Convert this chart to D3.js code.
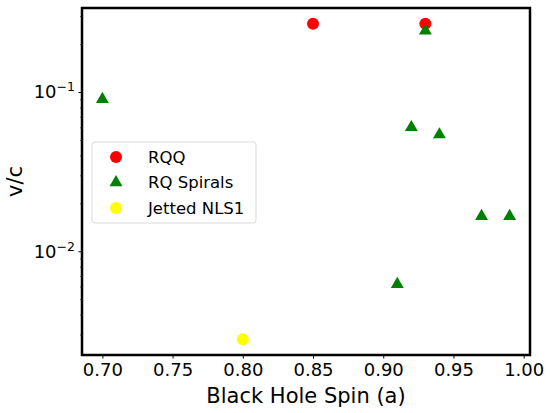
<!DOCTYPE html>
<html>
<head>
<meta charset="utf-8">
<script src="https://cdn.jsdelivr.net/npm/d3@7"></script>
<style>
  body { margin: 0; background: #fff; }
  svg { font-family: "DejaVu Sans", sans-serif; }
</style>
</head>
<body>
<svg width="550" height="413"></svg>
<script>
const rqqSpin = [0.85, 0.93];
const rqqV = [0.268, 0.268];
const spiralSpin = [0.70, 0.93, 0.92, 0.94, 0.97, 0.99, 0.91];
const spiralV = [0.090, 0.242, 0.060, 0.054, 0.0166, 0.0166, 0.0062];
const nlsSpin = [0.80];
const nlsV = [0.0028];
const xTicks = [0.70, 0.75, 0.80, 0.85, 0.90, 0.95, 1.00];
const yTicks = [0.01, 0.1];

const margin = { top: 8, right: 20, bottom: 58, left: 82 };
const width = 550 - margin.left - margin.right;
const height = 413 - margin.top - margin.bottom;

const svg = d3.select("svg")
    .append("g")
    .attr("transform", `translate(${margin.left},${margin.top})`);

const x = d3.scaleLinear().domain([0.6855, 1.0045]).range([0, width]);
const y = d3.scaleLog().domain([0.00223, 0.337]).range([height, 0]);

// x axis
const xAxis = svg.append("g")
    .attr("transform", `translate(0,${height})`)
    .call(d3.axisBottom(x).tickValues(xTicks).tickFormat(d3.format(".2f")).tickSize(3.5).tickPadding(5));
xAxis.select(".domain").remove();
xAxis.selectAll("text")
    .attr("font-family", "DejaVu Sans")
    .attr("font-size", 18)
    .attr("fill", "#000");

// y axis, major + minor
const minor = [];
for (let e = -3; e <= -1; e++) {
    for (let m = 2; m <= 9; m++) {
        const v = m * Math.pow(10, e);
        if (v > y.domain()[0] && v < y.domain()[1]) minor.push(v);
    }
}
const yMinor = svg.append("g")
    .call(d3.axisLeft(y).tickValues(minor).tickFormat("").tickSize(2));
yMinor.select(".domain").remove();
yMinor.selectAll("line").attr("stroke-width", 0.6);

const yAxis = svg.append("g")
    .call(d3.axisLeft(y).tickValues(yTicks).tickFormat("").tickSize(3.5));
yAxis.select(".domain").remove();
yAxis.selectAll(".tick").each(function(d) {
    const t = d3.select(this).append("text")
        .attr("x", -7)
        .attr("dy", "0.32em")
        .attr("text-anchor", "end")
        .attr("fill", "#000")
        .attr("font-family", "DejaVu Sans")
        .attr("font-size", 18);
    t.append("tspan").text("10");
    t.append("tspan")
        .attr("dy", "-0.55em")
        .attr("font-size", 12.5)
        .text("\u2212" + Math.round(-Math.log10(d)));
});

// frame
svg.append("rect")
    .attr("width", width)
    .attr("height", height)
    .attr("fill", "none")
    .attr("stroke", "#000")
    .attr("stroke-width", 2.5);

const tri = d3.symbol().type(d3.symbolTriangle).size(72);

svg.selectAll(".rqq")
    .data(rqqSpin)
    .enter().append("circle")
    .attr("class", "rqq")
    .attr("cx", d => x(d))
    .attr("cy", (d, i) => y(rqqV[i]))
    .attr("r", 6)
    .attr("fill", "red");

svg.selectAll(".spiral")
    .data(spiralSpin)
    .enter().append("path")
    .attr("class", "spiral")
    .attr("d", tri)
    .attr("transform", (d, i) => `translate(${x(d)},${y(spiralV[i])})`)
    .attr("fill", "green");

svg.selectAll(".nls")
    .data(nlsSpin)
    .enter().append("circle")
    .attr("class", "nls")
    .attr("cx", d => x(d))
    .attr("cy", (d, i) => y(nlsV[i]))
    .attr("r", 6)
    .attr("fill", "yellow");

// legend
const legend = svg.append("g")
    .attr("transform", "translate(10,134)");
legend.append("rect")
    .attr("width", 164)
    .attr("height", 81)
    .attr("rx", 3)
    .attr("fill", "#fff")
    .attr("fill-opacity", 0.8)
    .attr("stroke", "#d9d9d9");
const items = [
    { label: "RQQ", color: "red", shape: "circle" },
    { label: "RQ Spirals", color: "green", shape: "tri" },
    { label: "Jetted NLS1", color: "yellow", shape: "circle" }
];
items.forEach((it, i) => {
    const g = legend.append("g").attr("transform", `translate(24,${15 + i * 25.5})`);
    if (it.shape === "circle") {
        g.append("circle").attr("r", 6).attr("fill", it.color);
    } else {
        g.append("path").attr("d", tri).attr("fill", it.color);
    }
    g.append("text")
        .attr("x", 32)
        .attr("dy", "0.36em")
        .attr("font-size", 16.5)
        .attr("fill", "#000")
        .text(it.label);
});

// axis labels
svg.append("text")
    .attr("x", width / 2)
    .attr("y", height + 48)
    .attr("text-anchor", "middle")
    .attr("font-size", 21)
    .text("Black Hole Spin (a)");

svg.append("text")
    .attr("transform", `translate(-60,${height / 2}) rotate(-90)`)
    .attr("text-anchor", "middle")
    .attr("font-size", 21)
    .text("v/c");
</script>
</body>
</html>
